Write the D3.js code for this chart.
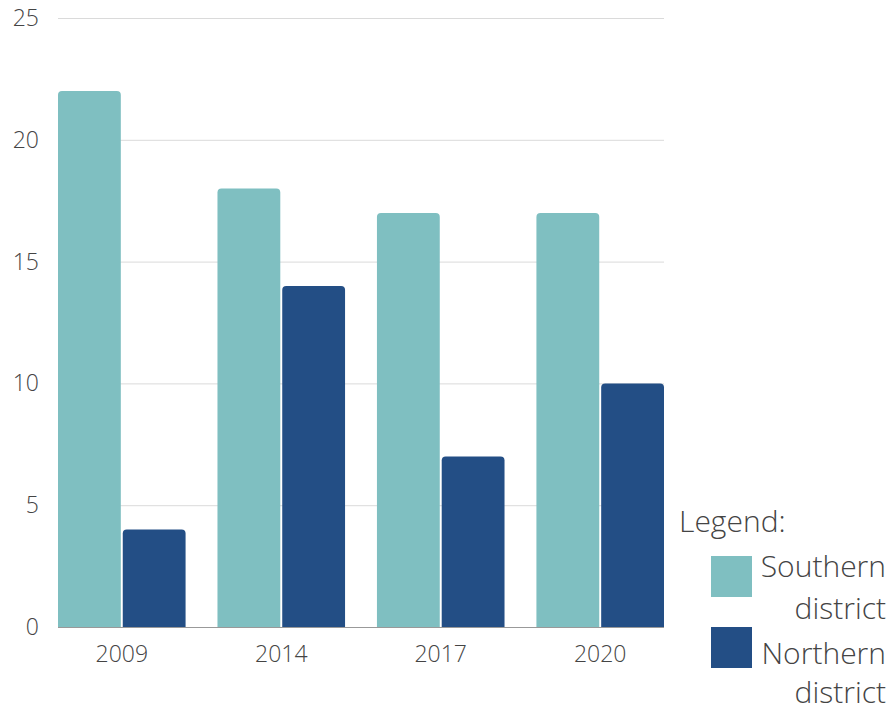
<!DOCTYPE html>
<html><head><meta charset="utf-8">
<script src="https://cdn.jsdelivr.net/npm/d3@7"></script>
<style>body{margin:0;background:#fff}svg{font-family:"Open Sans",sans-serif;font-weight:300}</style>
</head><body>
<script>
const years = ["2009","2014","2017","2020"];
const seriesNames = ["Southern district","Northern district"];
const southern = [22,18,17,17];
const northern = [4,14,7,10];
const yTicks = [0,5,10,15,20,25];
const colors = ["#7fbfc1","#234e85"];

(function(){
const W=894,H=711;
const svg=d3.select("body").append("svg").attr("width",W).attr("height",H);
const mLeft=58,mRight=664,mTop=18,mBottom=627;
const y=d3.scaleLinear().domain([0,25]).range([mBottom,mTop]);
const x0=d3.scaleBand().domain(years).range([mLeft,mRight]).paddingInner(0.2).paddingOuter(0);
const x1=d3.scaleBand().domain(seriesNames).range([0,x0.bandwidth()]).paddingInner(0.03);

svg.append("g").selectAll("line").data(yTicks.filter(d=>d>0)).join("line")
  .attr("x1",mLeft).attr("x2",mRight).attr("y1",d=>y(d)+0.5).attr("y2",d=>y(d)+0.5)
  .attr("stroke","#dadada").attr("stroke-width",1);

svg.append("g").selectAll("text").data(yTicks).join("text")
  .attr("x",39).attr("y",d=>y(d)).attr("dy","0.35em").attr("text-anchor","end")
  .attr("font-size",23).attr("fill","#444").text(d=>d);

const data=years.map((yr,i)=>({yr,vals:[southern[i],northern[i]]}));
const r=4;
function topRounded(x,yT,w,h){
  const rr=Math.min(r,h,w/2);
  return `M${x},${yT+h}V${yT+rr}Q${x},${yT} ${x+rr},${yT}H${x+w-rr}Q${x+w},${yT} ${x+w},${yT+rr}V${yT+h}Z`;
}
const g=svg.append("g");
data.forEach(d=>{
  d.vals.forEach((v,j)=>{
    const xx=x0(d.yr)+x1(seriesNames[j]);
    g.append("path").attr("d",topRounded(xx,y(v),x1.bandwidth(),y(0)-y(v))).attr("fill",colors[j]);
  });
});

svg.append("line").attr("x1",mLeft).attr("x2",mRight).attr("y1",mBottom+0.5).attr("y2",mBottom+0.5)
  .attr("stroke","#999").attr("stroke-width",1);

svg.append("g").selectAll("text").data(years).join("text")
  .attr("x",d=>x0(d)+x0.bandwidth()/2).attr("y",662).attr("text-anchor","middle")
  .attr("font-size",23).attr("fill","#444").text(d=>d);

const lg=svg.append("g");
lg.append("text").attr("x",679).attr("y",532).attr("font-size",30).attr("fill","#444").text("Legend:");
const legY=[556,627];
const lineY=[[577,619],[664,703]];
seriesNames.forEach((n,j)=>{
  lg.append("rect").attr("x",711).attr("y",legY[j]).attr("width",41).attr("height",41).attr("fill",colors[j]);
  const parts=n.split(" ");
  lg.append("text").attr("x",886).attr("y",lineY[j][0]).attr("text-anchor","end").attr("font-size",30).attr("fill","#444").text(parts[0]);
  lg.append("text").attr("x",886).attr("y",lineY[j][1]).attr("text-anchor","end").attr("font-size",30).attr("fill","#444").text(parts[1]);
});
})();
</script>
</body></html>
